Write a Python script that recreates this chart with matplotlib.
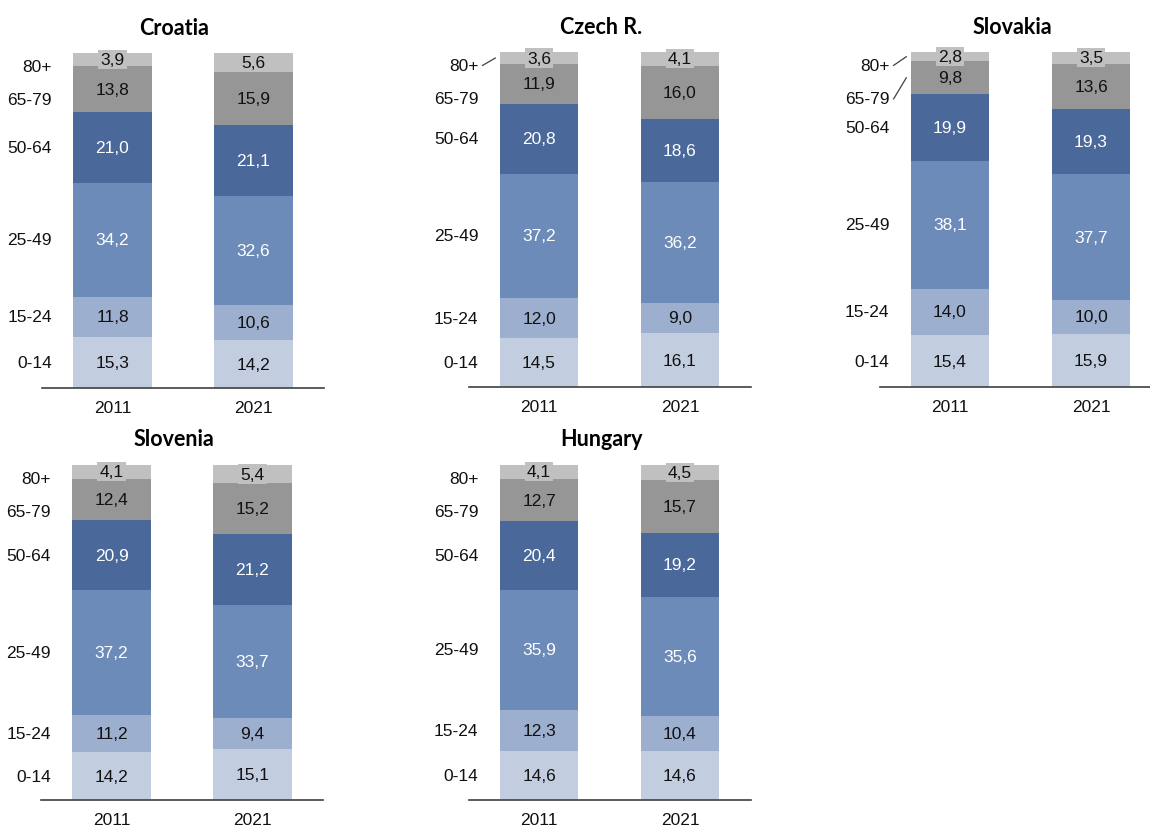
import matplotlib.pyplot as plt

plt.rcParams['font.family'] = ['Liberation Sans', 'DejaVu Sans']

age_groups = ['0-14', '15-24', '25-49', '50-64', '65-79', '80+']
years = ['2011', '2021']

croatia_2011 = [15.3, 11.8, 34.2, 21.0, 13.8, 3.9]
croatia_2021 = [14.2, 10.6, 32.6, 21.1, 15.9, 5.6]
czech_2011 = [14.5, 12.0, 37.2, 20.8, 11.9, 3.6]
czech_2021 = [16.1, 9.0, 36.2, 18.6, 16.0, 4.1]
slovakia_2011 = [15.4, 14.0, 38.1, 19.9, 9.8, 2.8]
slovakia_2021 = [15.9, 10.0, 37.7, 19.3, 13.6, 3.5]
slovenia_2011 = [14.2, 11.2, 37.2, 20.9, 12.4, 4.1]
slovenia_2021 = [15.1, 9.4, 33.7, 21.2, 15.2, 5.4]
hungary_2011 = [14.6, 12.3, 35.9, 20.4, 12.7, 4.1]
hungary_2021 = [14.6, 10.4, 35.6, 19.2, 15.7, 4.5]

colors = ['#c3cde0', '#9dafce', '#6c8bb8', '#4a6899', '#969696', '#c0c0c0']
text_colors = ['#111111', '#111111', 'white', 'white', '#111111', '#111111']

FIG_W, FIG_H = 1150, 828
FS = 12.5


def add_panel(fig, box, title, data_2011, data_2021, leaders=()):
    left, top, bottom = box
    width = 282
    ax = fig.add_axes([left / FIG_W, 1 - bottom / FIG_H,
                       width / FIG_W, (bottom - top) / FIG_H])
    ax.set_xlim(-0.5, 1.5)
    ax.set_ylim(0, 100)

    for x, values in enumerate([data_2011, data_2021]):
        base = 0
        for i, v in enumerate(values):
            ax.bar(x, v, bottom=base, width=0.56, color=colors[i], linewidth=0)
            label = f'{v:.1f}'.replace('.', ',')
            kw = {}
            if age_groups[i] == '80+':
                kw['bbox'] = dict(boxstyle='square,pad=0.12', fc=colors[i], ec='none')
            ax.text(x, base + v / 2, label, ha='center', va='center',
                    fontsize=FS, color=text_colors[i], **kw)
            base += v

    # age group labels next to the 2011 bar
    base = 0
    for i, v in enumerate(data_2011):
        center = base + v / 2
        if age_groups[i] == '80+':
            y = 96
        elif age_groups[i] == '65-79':
            y = 86
        else:
            y = center
        ax.text(-0.43, y, age_groups[i], ha='right', va='center',
                fontsize=FS, color='#111111')
        if age_groups[i] in leaders:
            ax.plot([-0.40, -0.31], [y, center], color='#404040', lw=0.9,
                    clip_on=False)
        base += v

    ax.text(0.47, 1 + 26 / (bottom - top), title, transform=ax.transAxes,
            ha='center', va='center', fontsize=15.5, fontweight='bold',
            family=['Lato', 'DejaVu Sans'], color='black')

    ax.set_xticks([0, 1])
    ax.set_xticklabels(years, fontsize=FS, color='#111111')
    ax.tick_params(axis='x', length=0, pad=9)
    ax.set_yticks([])
    for side in ['left', 'right', 'top']:
        ax.spines[side].set_visible(False)
    ax.spines['bottom'].set_color('#404040')
    ax.spines['bottom'].set_linewidth(1.2)
    return ax


fig = plt.figure(figsize=(FIG_W / 100, FIG_H / 100), dpi=100)

add_panel(fig, (42, 54, 389), 'Croatia', croatia_2011, croatia_2021)
add_panel(fig, (468.5, 53, 388), 'Czech R.', czech_2011, czech_2021,
          leaders=('80+',))
add_panel(fig, (879.5, 53, 388), 'Slovakia', slovakia_2011, slovakia_2021,
          leaders=('80+', '65-79'))
add_panel(fig, (41, 466, 801), 'Slovenia', slovenia_2011, slovenia_2021)
add_panel(fig, (468.5, 466, 801), 'Hungary', hungary_2011, hungary_2021)

fig.savefig('out.png', dpi=100, facecolor='white')
